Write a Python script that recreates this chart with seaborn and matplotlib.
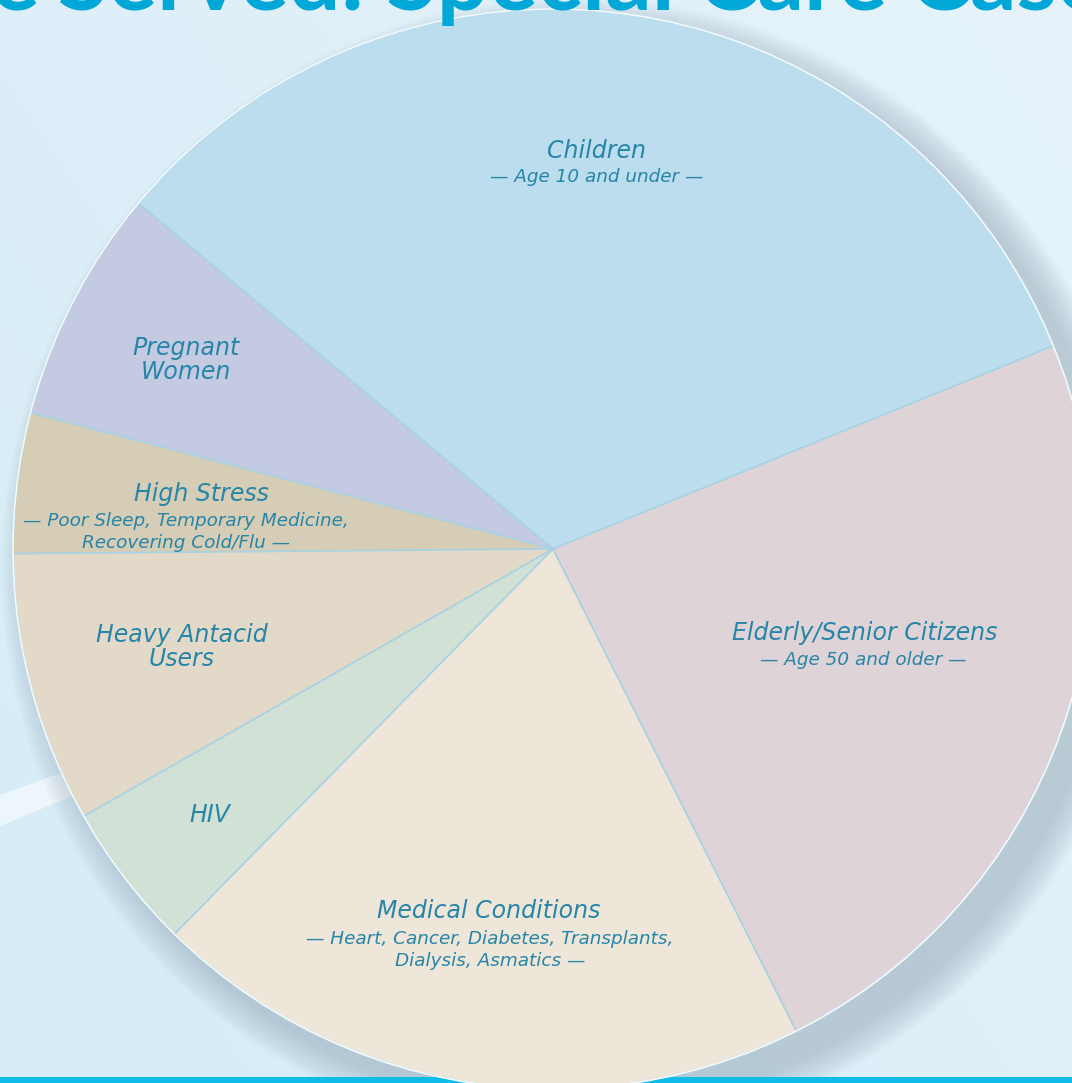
import numpy as np
import matplotlib
matplotlib.use("Agg")
import matplotlib.pyplot as plt
import seaborn as sns
from matplotlib.patches import Circle, Rectangle, Polygon
from matplotlib.colors import LinearSegmentedColormap

# slices, counter-clockwise starting from the Children / Elderly border
groups = ["Children", "Pregnant Women", "High Stress", "Heavy Antacid Users",
          "HIV", "Medical Conditions", "Elderly/Senior Citizens"]
shares = [32.8, 7.0, 4.2, 8.1, 4.4, 19.8, 23.7]
labels = ["Children", "Pregnant\nWomen", "High Stress", "Heavy Antacid\nUsers",
          "HIV", "Medical Conditions", "Elderly/Senior Citizens"]
notes = ["— Age 10 and under —", "",
         "— Poor Sleep, Temporary Medicine,\nRecovering Cold/Flu —", "", "",
         "— Heart, Cancer, Diabetes, Transplants,\nDialysis, Asmatics —",
         "— Age 50 and older —"]
slice_colors = ["#BBDDEE", "#C3CAE2", "#D6CDB6", "#E3D9C9",
                "#D1E1D5", "#EDE6D9", "#DED3D6"]

W, H = 1072, 1083
CX, CY, R = 553, 549, 540          # pie centre / radius in pixels
START = 22.1                        # angle of the first border

sns.set_theme(style="white")
plt.rcParams["font.family"] = ["DejaVu Sans"]

fig = plt.figure(figsize=(W / 100, H / 100), dpi=100)
ax = fig.add_axes([0, 0, 1, 1])

def py(y):
    # pixel row -> data y
    return H - y

# background
cmap = LinearSegmentedColormap.from_list("bg", ["#D6ECF7", "#E6F3FA"])
gx, gy = np.meshgrid(np.linspace(0, 1, 300), np.linspace(0, 1, 300))
ax.imshow(0.6 * gx + 0.4 * gy, cmap=cmap, extent=[0, W, 0, H],
          origin="lower", aspect="auto", zorder=0)

# light streak on the left
ax.add_patch(Polygon([(0, py(795)), (75, py(768)), (75, py(795)), (0, py(826))],
                     closed=True, facecolor="white", alpha=0.55, lw=0, zorder=1))

# soft shadow, pushed to the lower right
for k in range(16):
    ax.add_patch(Circle((CX + 20, py(CY + 20)), R + 32 - 2 * k,
                        facecolor="#4A6070", alpha=0.017, lw=0, zorder=2))

# bottom bar
ax.add_patch(Rectangle((0, 0), W, 6, facecolor="#10BCE7", lw=0, zorder=2))

wedges, _ = ax.pie(shares, colors=slice_colors, startangle=START,
                   counterclock=True, center=(CX, py(CY)), radius=R,
                   wedgeprops=dict(edgecolor="#A9D3E2", linewidth=1.2))
for w in wedges:
    w.set_zorder(3)
ax.add_patch(Circle((CX, py(CY)), R, facecolor="none", edgecolor="#F4FAFC",
                    lw=1.2, zorder=4))

# label positions (pixels)
label_xy = [(597, 151), (186, 360), (201, 494), (182, 647),
            (210, 815), (489, 911), (865, 633)]
note_xy = [(597, 177), None, (186, 532), None, None, (490, 950), (863, 660)]

txt_color = "#2785A7"
for lab, note, lxy, nxy in zip(labels, notes, label_xy, note_xy):
    ax.text(lxy[0], py(lxy[1]), lab, ha="center", va="center", fontsize=17,
            style="italic", color=txt_color, linespacing=1.05, zorder=5)
    if note:
        ax.text(nxy[0], py(nxy[1]), note, ha="center", va="center",
                fontsize=13.2, style="italic", color=txt_color,
                linespacing=1.3, zorder=5)

# title, mostly cut off by the top edge
title_kw = dict(va="baseline", fontsize=66, family="Lato", weight="bold",
                color="#00A7D7", zorder=6)
ax.text(40, py(10), "Those", ha="right", **title_kw)
ax.text(58, py(10), "Served: Special Care Cases", ha="left", **title_kw)

ax.set_xlim(0, W)
ax.set_ylim(0, H)
ax.set_aspect("auto")
ax.axis("off")

fig.savefig("out.png", dpi=100)
